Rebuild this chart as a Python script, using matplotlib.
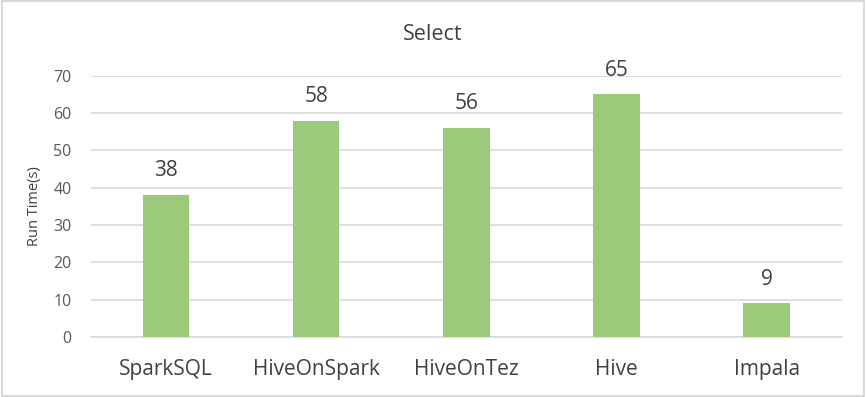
import matplotlib
matplotlib.use("Agg")
import matplotlib.pyplot as plt
from matplotlib.patches import Rectangle

# datos del gráfico
categorias = ["SparkSQL", "HiveOnSpark", "HiveOnTez", "Hive", "Impala"]
tiempos = [38, 58, 56, 65, 9]
yticks = [0, 10, 20, 30, 40, 50, 60, 70]

plt.rcParams['font.family'] = ['Open Sans', 'DejaVu Sans']

fig = plt.figure(figsize=(8.66, 3.97), dpi=100)
ax = fig.add_axes([0.105, 0.151, 0.867, 0.658])

x = range(len(categorias))
ax.bar(x, tiempos, width=0.31, color="#9BCB7A", zorder=3)
for xi, v in zip(x, tiempos):
    ax.annotate(str(v), (xi, v), xytext=(0, 10), textcoords="offset points",
                ha="center", va="bottom", fontsize=15, color="#404040")

ax.set_xlim(-0.5, len(categorias) - 0.5)
ax.set_ylim(0, 70)
ax.set_yticks(yticks)
ax.set_xticks(list(x))
ax.set_xticklabels(categorias, fontsize=15, color="#404040")
ax.tick_params(axis="y", labelsize=11.5, colors="#595959", length=0, pad=14)
ax.tick_params(axis="x", length=0, pad=16)
ax.yaxis.grid(True, color="#D9D9D9", linewidth=1.2, zorder=0)
for s in ["top", "right", "left"]:
    ax.spines[s].set_visible(False)
ax.spines["bottom"].set_color("#D9D9D9")
ax.spines["bottom"].set_linewidth(1.2)

ax.set_ylabel("Run Time(s)", fontsize=10.5, color="#404040", labelpad=8)
fig.text(0.5, 0.914, "Select", ha="center", va="center", fontsize=15.5, color="#404040")

# borde del gráfico
fig.patches.append(Rectangle((0.002, 0.003), 0.996, 0.994, transform=fig.transFigure,
                             fill=False, edgecolor="#D9D9D9", linewidth=1.5))

fig.savefig("out.png", dpi=100)
